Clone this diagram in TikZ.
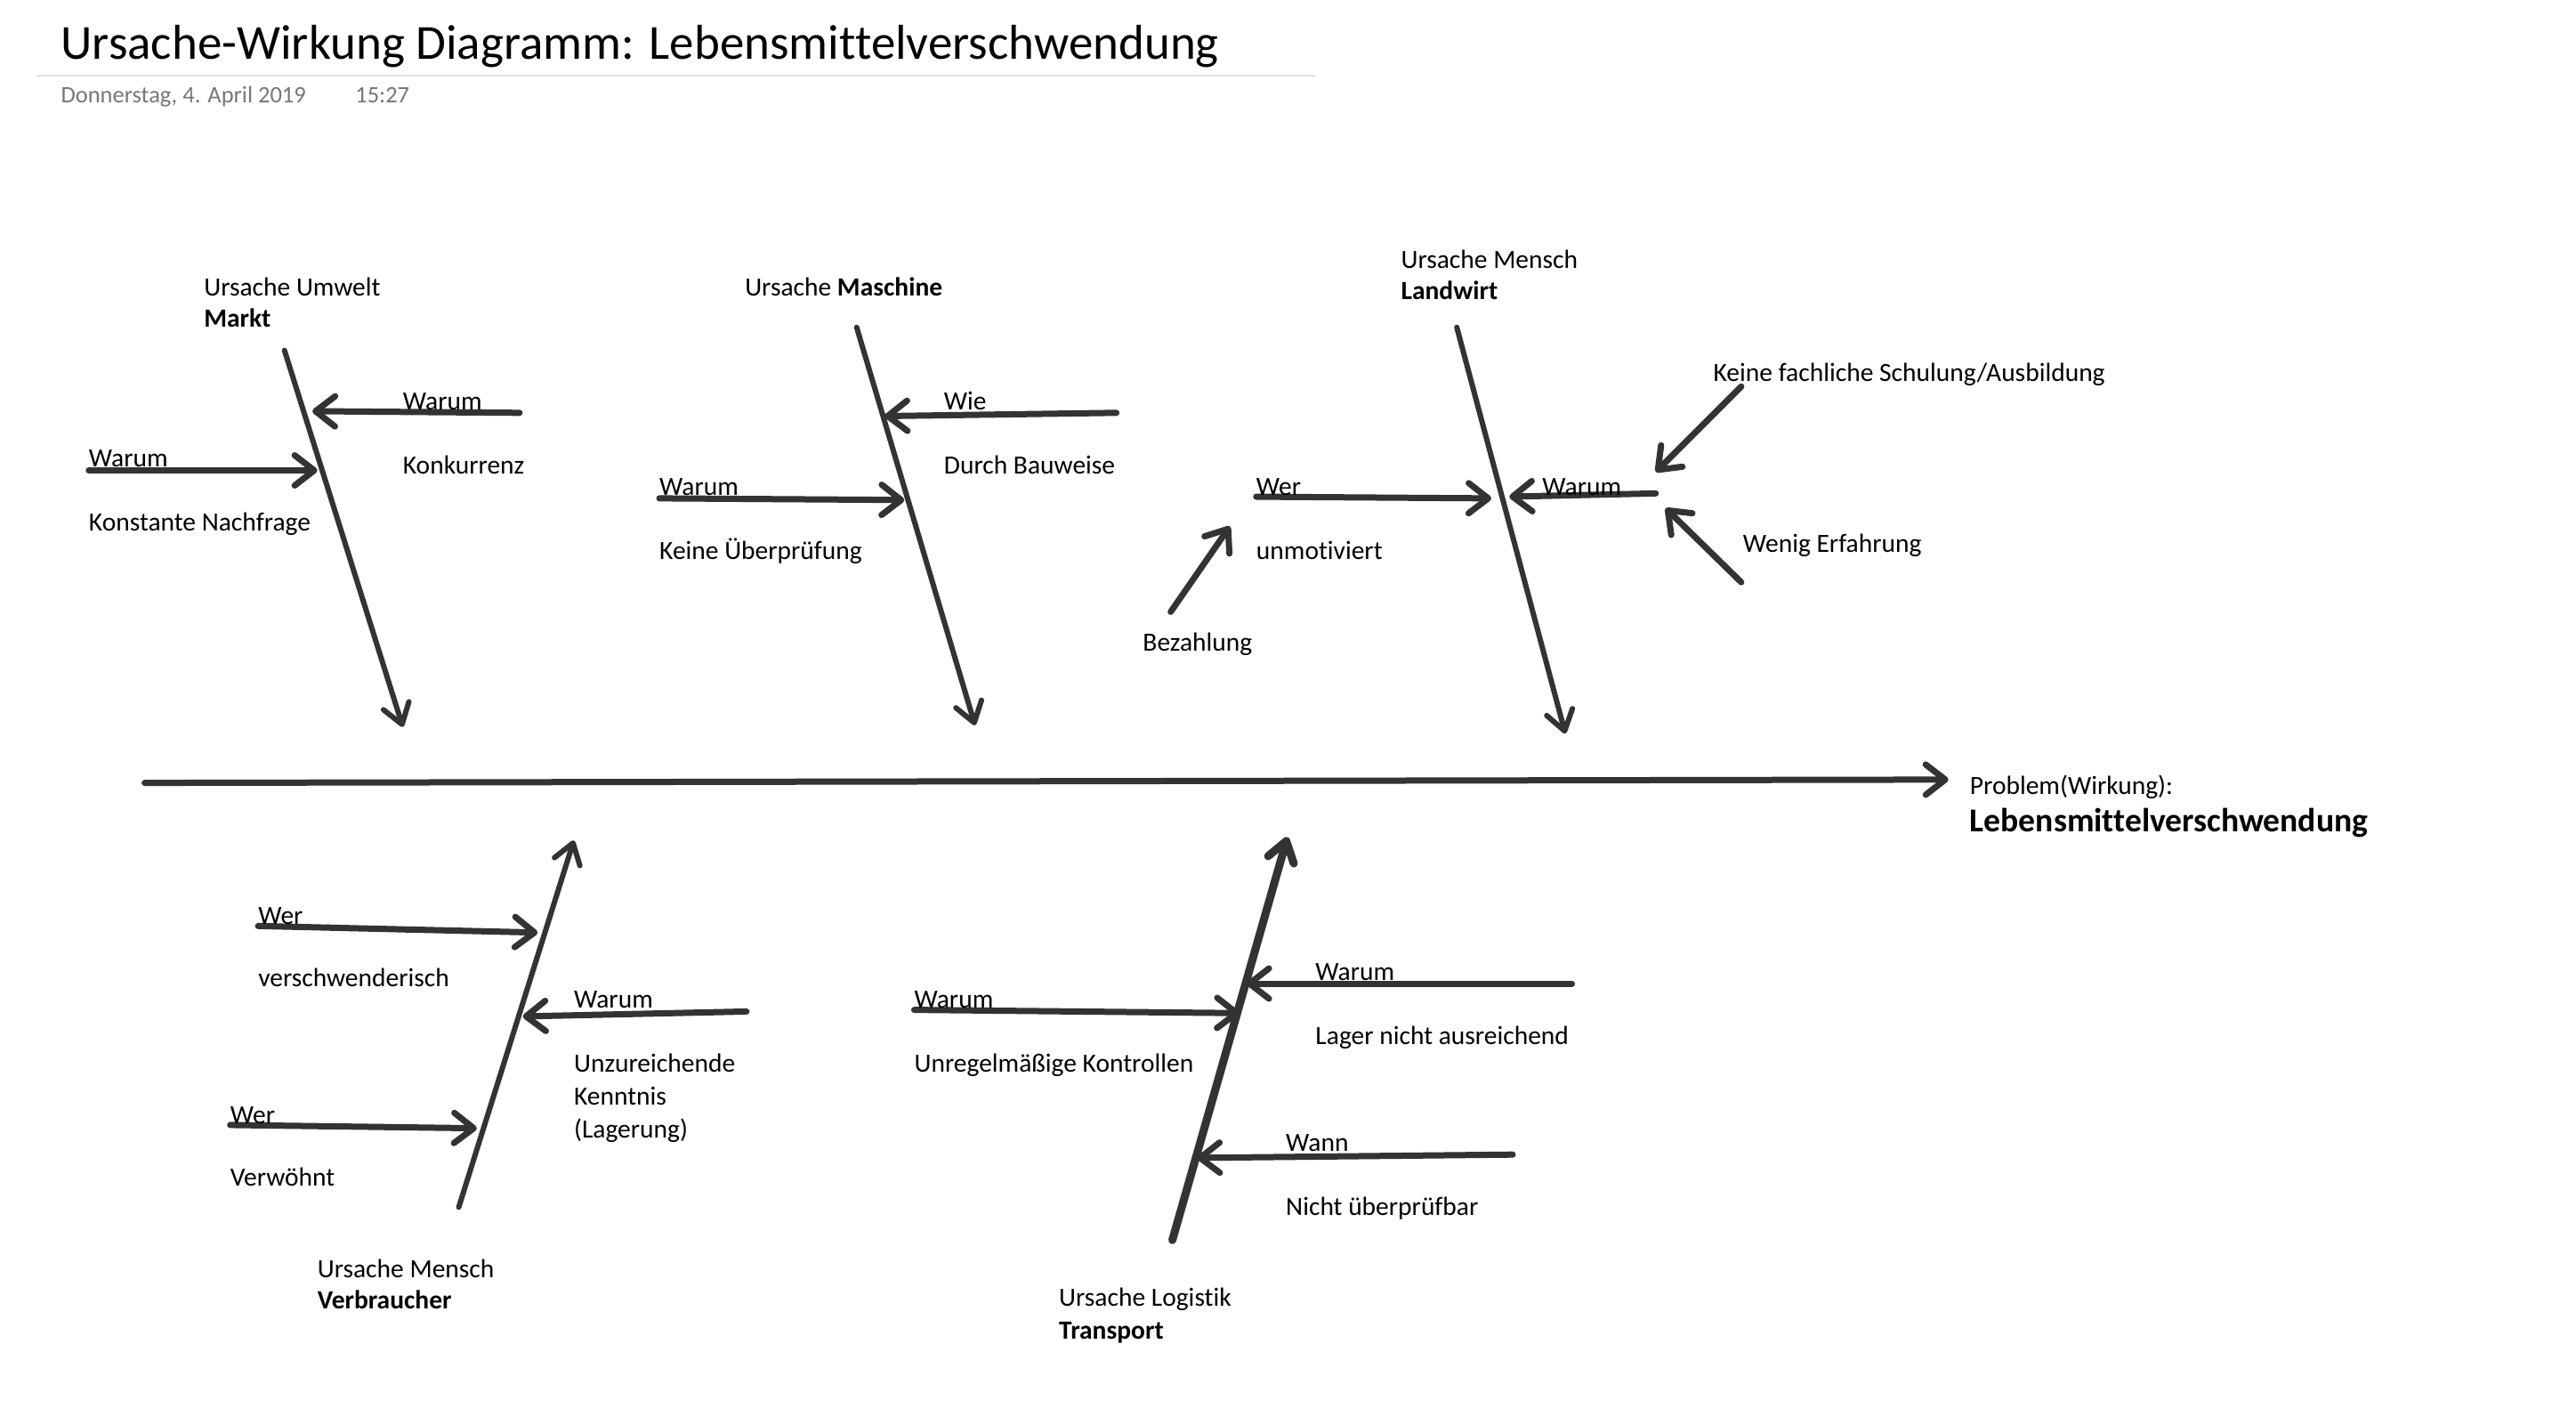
\documentclass[tikz,border=0pt]{standalone}
\usepackage{fontspec}
\setmainfont{Carlito}[Ligatures=NoCommon]
\usetikzlibrary{arrows.meta}
\definecolor{ink}{HTML}{333333}
\definecolor{rulegrey}{HTML}{E1E1E1}
\definecolor{dategrey}{HTML}{777777}
\newcommand\fbody{\fontsize{29.5}{36}\selectfont}
\newcommand\ftitle{\fontsize{55}{64}\selectfont}
\newcommand\fdate{\fontsize{26.5}{30}\selectfont}
\newcommand\fbig{\fontsize{37.6}{44}\selectfont}
\tikzset{
  bone/.style={draw=ink, line width=6pt, line cap=round, line join=round},
  twig/.style={draw=ink, line width=7pt, line cap=round, -{Straight Barb[length=22pt,width=34pt,round]}},
  lbl/.style={anchor=base west, inner sep=0pt, font=\fbody, yshift=-1.8pt},
}
\begin{document}
\begin{tikzpicture}[x=1.8478pt, y=-1.8478pt]
\useasboundingbox[fill=white] (0,0) rectangle (1566.7,866.4);
% header
\node[anchor=base west, inner sep=0pt, font=\ftitle] (title) at (37,36) {Ursache-Wirkung Diagramm: Lebensmittelverschwendung};
\coordinate (rl) at (22,46);
\coordinate (rr) at (800,46);
\draw[rulegrey, line width=2.5pt] (rl) -- (rr);
\node[anchor=base west, inner sep=0pt, font=\fdate, text=dategrey] (date) at (37,62.5) {Donnerstag, 4. April 2019};
\node[anchor=base west, inner sep=0pt, font=\fdate, text=dategrey] (time) at (216,62.5) {15:27};

% spine
\coordinate (s0) at (88,476);
\coordinate (s1) at (1185,474);
\draw[bone, line width=7pt, -{Straight Barb[length=22pt,width=34pt,round]}] (s0) -- (s1);
\node[lbl] (prob) at (1198,482) {Problem(Wirkung):};
\node[lbl, font=\fbig\bfseries] (probname) at (1198,505) {Lebensmittelverschwendung};

% ---- Markt
\node[lbl] (mkA) at (124,179) {Ursache Umwelt};
\node[lbl, font=\fbody\bfseries] (mkB) at (124,198) {Markt};
\coordinate (mk0) at (173,213);
\coordinate (mk1) at (245,442);
\draw[bone, -{Straight Barb[length=22pt,width=30pt,round]}] (mk0) -- (mk1);
\coordinate (mkR0) at (316,251);
\coordinate (mkR1) at (190,250);
\draw[twig] (mkR0) -- (mkR1);
\node[lbl] (mkRq) at (245,248) {Warum};
\node[lbl] (mkRa) at (245,287) {Konkurrenz};
\coordinate (mkL0) at (54,286);
\coordinate (mkL1) at (193,286);
\draw[twig] (mkL0) -- (mkL1);
\node[lbl] (mkLq) at (54,283) {Warum};
\node[lbl] (mkLa) at (54,322) {Konstante Nachfrage};

% ---- Maschine
\node[lbl] (maA) at (453,179) {Ursache \textbf{Maschine}};
\coordinate (ma0) at (521,199);
\coordinate (ma1) at (593,441);
\draw[bone, -{Straight Barb[length=22pt,width=30pt,round]}] (ma0) -- (ma1);
\coordinate (maR0) at (679,251);
\coordinate (maR1) at (538,253);
\draw[twig] (maR0) -- (maR1);
\node[lbl] (maRq) at (574,248) {Wie};
\node[lbl] (maRa) at (574,287) {Durch Bauweise};
\coordinate (maL0) at (401,303);
\coordinate (maL1) at (550,304);
\draw[twig] (maL0) -- (maL1);
\node[lbl] (maLq) at (401,300) {Warum};
\node[lbl] (maLa) at (401,339) {Keine Überprüfung};

% ---- Landwirt
\node[lbl] (lwA) at (852,162) {Ursache Mensch};
\node[lbl, font=\fbody\bfseries] (lwB) at (852,181) {Landwirt};
\coordinate (lw0) at (886,199);
\coordinate (lw1) at (952,446);
\draw[bone, -{Straight Barb[length=22pt,width=30pt,round]}] (lw0) -- (lw1);
\coordinate (lwL0) at (764,302);
\coordinate (lwL1) at (907,303);
\draw[twig] (lwL0) -- (lwL1);
\node[lbl] (lwLq) at (764,300) {Wer};
\node[lbl] (lwLa) at (764,339) {unmotiviert};
\coordinate (lwR0) at (1007,300);
\coordinate (lwR1) at (918,302);
\draw[twig] (lwR0) -- (lwR1);
\node[lbl] (lwRq) at (938,300) {Warum};
\coordinate (lwU0) at (1059,235);
\coordinate (lwU1) at (1007,287);
\draw[twig] (lwU0) -- (lwU1);
\node[lbl] (lwUa) at (1042,231) {Keine fachliche Schulung/Ausbildung};
\coordinate (lwD0) at (1059,354);
\coordinate (lwD1) at (1013,309);
\draw[twig] (lwD0) -- (lwD1);
\node[lbl] (lwDa) at (1060,335) {Wenig Erfahrung};
\coordinate (lwB0) at (712,372);
\coordinate (lwB1) at (748,320);
\draw[twig] (lwB0) -- (lwB1);
\node[lbl] (lwBa) at (695,395) {Bezahlung};

% ---- Verbraucher
\coordinate (vb0) at (279,734);
\coordinate (vb1) at (349,511);
\draw[bone, -{Straight Barb[length=22pt,width=30pt,round]}] (vb0) -- (vb1);
\coordinate (vb10) at (157,563);
\coordinate (vb11) at (327,567);
\draw[twig] (vb10) -- (vb11);
\node[lbl] (vb1q) at (157,561) {Wer};
\node[lbl] (vb1a) at (157,599) {verschwenderisch};
\coordinate (vb20) at (454,615);
\coordinate (vb21) at (318,618);
\draw[twig] (vb20) -- (vb21);
\node[lbl] (vb2q) at (349,612) {Warum};
\node[lbl] (vb2a) at (349,651) {Unzureichende};
\node[lbl] (vb2b) at (349,671) {Kenntnis};
\node[lbl] (vb2c) at (349,691) {(Lagerung)};
\coordinate (vb30) at (140,684);
\coordinate (vb31) at (290,686);
\draw[twig] (vb30) -- (vb31);
\node[lbl] (vb3q) at (140,682) {Wer};
\node[lbl] (vb3a) at (140,720) {Verwöhnt};
\node[lbl] (vbA) at (193,776) {Ursache Mensch};
\node[lbl, font=\fbody\bfseries] (vbB) at (193,795) {Verbraucher};

% ---- Transport
\coordinate (tr0) at (713,754);
\coordinate (tr1) at (783,509);
\draw[bone, line width=9pt, -{Straight Barb[length=22pt,width=30pt,round]}] (tr0) -- (tr1);
\coordinate (tr10) at (556,614);
\coordinate (tr11) at (754,616);
\draw[twig] (tr10) -- (tr11);
\node[lbl] (tr1q) at (556,612) {Warum};
\node[lbl] (tr1a) at (556,651) {Unregelmäßige Kontrollen};
\coordinate (tr20) at (956,598);
\coordinate (tr21) at (758,598);
\draw[twig] (tr20) -- (tr21);
\node[lbl] (tr2q) at (800,595) {Warum};
\node[lbl] (tr2a) at (800,634) {Lager nicht ausreichend};
\coordinate (tr30) at (920,702);
\coordinate (tr31) at (728,704);
\draw[twig] (tr30) -- (tr31);
\node[lbl] (tr3q) at (782,699) {Wann};
\node[lbl] (tr3a) at (782,738) {Nicht überprüfbar};
\node[lbl] (trA) at (644,793) {Ursache Logistik};
\node[lbl, font=\fbody\bfseries] (trB) at (644,813) {Transport};
\end{tikzpicture}
\end{document}
